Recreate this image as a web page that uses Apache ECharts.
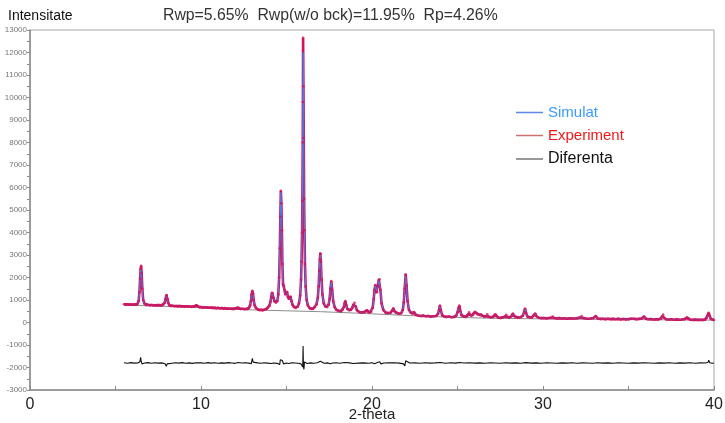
<!DOCTYPE html>
<html>
<head>
<meta charset="utf-8">
<script src="https://cdn.jsdelivr.net/npm/echarts@6/dist/echarts.min.js"></script>
<style>
  html, body { margin: 0; padding: 0; background: #fff; }
  #chart { width: 725px; height: 423px; }
</style>
</head>
<body>
<div id="chart"></div>
<script>
// Powder diffraction pattern: observed, calculated, background and difference
const twoTheta = [
  5.50,5.60,5.70,5.80,5.90,6.00,6.10,6.20,6.28,6.35,
  6.40,6.44,6.47,6.50,6.53,6.57,6.62,6.70,6.80,6.90,
  7.00,7.10,7.20,7.30,7.40,7.50,7.60,7.70,7.80,7.88,
  7.93,7.97,8.00,8.04,8.09,8.16,8.25,8.35,8.45,8.55,
  8.65,8.75,8.85,8.95,9.05,9.15,9.25,9.35,9.45,9.55,
  9.65,9.72,9.77,9.83,9.92,10.00,10.10,10.20,10.30,10.40,
  10.50,10.60,10.70,10.80,10.90,11.00,11.10,11.20,11.30,11.40,
  11.50,11.60,11.70,11.80,11.90,12.00,12.10,12.17,12.24,12.32,
  12.42,12.52,12.62,12.72,12.80,12.87,12.92,12.96,13.00,13.04,
  13.08,13.14,13.22,13.32,13.42,13.52,13.62,13.72,13.82,13.92,
  14.00,14.06,14.11,14.15,14.19,14.24,14.30,14.38,14.46,14.52,
  14.57,14.61,14.64,14.67,14.70,14.73,14.76,14.80,14.84,14.88,
  14.93,14.98,15.03,15.08,15.14,15.20,15.24,15.29,15.36,15.45,
  15.55,15.65,15.73,15.80,15.85,15.88,15.91,15.93,15.95,15.96,
  15.97,15.99,16.01,16.03,16.05,16.08,16.12,16.18,16.25,16.35,
  16.45,16.55,16.65,16.75,16.83,16.88,16.92,16.95,16.98,17.01,
  17.05,17.10,17.18,17.28,17.38,17.46,17.52,17.57,17.62,17.67,
  17.73,17.82,17.92,18.05,18.18,18.28,18.35,18.40,18.44,18.49,
  18.56,18.66,18.76,18.85,18.91,18.98,19.04,19.12,19.25,19.40,
  19.55,19.64,19.70,19.76,19.86,19.96,20.04,20.10,20.15,20.19,
  20.24,20.29,20.34,20.40,20.44,20.49,20.56,20.66,20.80,20.95,
  21.08,21.17,21.25,21.31,21.40,21.55,21.70,21.80,21.86,21.91,
  21.97,22.02,22.08,22.16,22.28,22.38,22.47,22.55,22.70,22.85,
  23.00,23.15,23.30,23.45,23.60,23.75,23.86,23.92,23.97,24.02,
  24.10,24.22,24.35,24.50,24.65,24.80,24.92,25.00,25.06,25.11,
  25.16,25.24,25.35,25.48,25.58,25.64,25.68,25.73,25.82,25.92,
  25.98,26.04,26.10,26.18,26.28,26.38,26.46,26.56,26.66,26.74,
  26.82,26.95,27.08,27.16,27.21,27.27,27.38,27.52,27.66,27.78,
  27.85,27.92,28.04,28.16,28.24,28.31,28.42,28.55,28.70,28.82,
  28.90,28.95,29.01,29.10,29.22,29.35,29.46,29.54,29.62,29.75,
  29.90,30.05,30.20,30.35,30.48,30.57,30.65,30.80,30.95,31.10,
  31.25,31.40,31.55,31.70,31.85,32.00,32.15,32.26,32.36,32.50,
  32.65,32.80,32.95,33.09,33.20,33.35,33.50,33.65,33.80,33.95,
  34.10,34.25,34.40,34.55,34.70,34.85,35.00,35.15,35.30,35.45,
  35.60,35.75,35.91,36.02,36.15,36.30,36.45,36.60,36.75,36.90,
  36.97,37.03,37.10,37.22,37.38,37.52,37.68,37.82,37.97,38.12,
  38.28,38.38,38.43,38.50,38.62,38.78,38.92,39.08,39.22,39.36,
  39.48,39.58,39.64,39.69,39.74,39.82,39.92,40.00
];

const observed = [
  810,790,805,780,800,785,795,780,820,950,
  1350,1950,2380,2520,2200,1500,1000,830,770,790,
  760,780,755,770,750,775,745,770,790,880,
  1050,1200,1220,1050,860,760,720,745,715,735,
  705,730,700,725,695,720,700,710,690,705,
  720,760,740,710,680,700,670,690,665,680,
  655,675,650,665,640,660,635,650,625,640,
  615,635,610,625,605,620,640,680,620,595,
  610,585,600,590,640,760,950,1250,1410,1300,
  1000,760,640,580,555,575,550,580,600,660,
  750,920,1150,1320,1300,1100,930,880,950,1250,
  2000,3300,4700,5850,5300,4100,2600,1700,1610,1450,
  1250,1280,1370,1150,1050,1120,1150,950,780,680,
  640,700,850,1200,1900,2700,4000,5400,8000,9800,
  12650,10500,8200,5500,4100,2600,1600,1000,760,640,
  600,610,680,800,1100,1600,2300,2800,3080,2700,
  1900,1250,850,700,680,780,1050,1500,1840,1450,
  950,680,560,520,500,560,680,850,950,780,
  600,540,560,660,800,880,720,550,470,450,
  470,500,540,470,440,480,650,1050,1450,1660,
  1350,1350,1650,1900,1920,1450,850,560,440,420,
  430,520,630,500,420,390,410,560,900,1500,
  2140,1650,950,560,420,380,450,350,310,290,
  305,275,290,260,275,290,380,560,750,560,
  330,270,250,265,235,250,300,450,640,750,
  520,320,260,250,290,380,450,360,300,350,
  440,480,420,360,340,370,300,250,280,360,
  260,230,250,310,360,280,220,205,230,270,
  340,250,230,280,400,290,235,215,240,300,
  480,620,420,260,230,230,300,400,280,210,
  195,200,185,200,210,260,200,180,195,175,
  190,170,185,175,180,190,220,290,200,175,
  165,180,200,290,180,160,170,150,165,150,
  160,145,160,140,155,140,150,165,170,150,
  160,175,260,170,145,150,135,145,140,180,
  280,350,200,140,130,140,125,138,125,135,
  150,200,215,150,125,118,128,115,125,115,
  130,200,340,430,300,160,120,110
];

const calculated = [
  795,793,791,789,787,786,788,792,810,960,
  1380,1980,2420,2480,2150,1450,980,820,785,780,
  777,774,771,768,765,763,762,768,790,900,
  1080,1250,1230,1020,850,760,740,735,732,729,
  726,723,720,717,714,711,708,705,703,702,
  710,745,750,720,695,690,686,682,678,674,
  670,666,662,658,654,650,646,642,638,634,
  630,626,622,618,615,614,625,660,630,608,
  600,598,600,605,625,740,980,1260,1380,1290,
  980,750,640,590,570,568,570,578,600,650,
  740,900,1150,1300,1280,1080,920,870,960,1300,
  2100,3400,4800,5780,5250,4000,2550,1650,1580,1420,
  1230,1250,1340,1120,1030,1100,1140,930,770,680,
  650,700,860,1250,2000,2850,4200,5600,8300,10200,
  12000,11200,8400,5300,4000,2500,1550,1000,760,650,
  610,620,690,820,1150,1650,2400,2850,3000,2650,
  1850,1230,860,700,690,800,1080,1550,1800,1400,
  940,680,560,520,510,560,700,880,930,760,
  600,530,560,680,820,870,700,560,480,445,
  460,500,530,480,450,480,620,1000,1400,1700,
  1400,1350,1600,1880,1850,1500,900,570,450,420,
  440,500,600,510,420,395,420,600,950,1550,
  2050,1600,920,550,410,380,430,350,315,300,
  290,280,275,270,268,290,400,580,720,540,
  330,260,250,245,240,242,300,460,650,720,
  520,320,260,255,290,370,440,350,300,350,
  430,470,420,360,330,360,290,255,270,350,
  260,235,240,300,340,270,225,215,220,260,
  330,250,230,270,380,290,235,220,230,300,
  500,600,430,260,225,230,290,380,280,215,
  200,195,192,195,210,260,200,188,185,182,
  180,178,178,176,178,185,220,280,200,175,
  170,170,200,280,185,165,162,160,158,156,
  155,153,152,150,148,147,146,150,160,155,
  152,170,250,175,148,145,142,140,140,170,
  270,330,210,145,135,133,132,131,130,130,
  145,190,210,150,125,123,122,121,120,120,
  130,190,330,410,300,170,125,120
];

// Refined background curve
const bgTheta = [5.5, 7, 9, 11, 13, 15, 17, 19, 21, 23, 25, 27, 29, 31, 33, 35, 37, 39, 40];
const background = [775, 740, 690, 620, 560, 520, 480, 420, 350, 280, 225, 190, 170, 155, 140, 130, 120, 110, 105];

// Difference curve (observed - calculated), drawn with an offset below the pattern
const diffTheta = [
  5.5,5.7,5.9,6.1,6.3,6.42,6.47,6.5,6.55,6.7,
  6.9,7.1,7.3,7.5,7.7,7.9,7.97,8.02,8.1,8.3,
  8.5,8.7,8.9,9.1,9.3,9.5,9.7,9.8,10.0,10.2,
  10.4,10.6,10.8,11.0,11.2,11.4,11.6,11.8,12.0,12.17,
  12.4,12.6,12.8,12.94,13.0,13.05,13.12,13.3,13.5,13.7,
  13.9,14.1,14.17,14.25,14.45,14.6,14.64,14.67,14.72,14.76,
  14.82,14.9,15.0,15.05,15.15,15.3,15.5,15.7,15.85,15.92,
  15.95,15.97,15.99,16.02,16.05,16.1,16.2,16.4,16.6,16.8,
  16.9,16.98,17.05,17.2,17.4,17.55,17.62,17.7,17.9,18.1,
  18.4,18.5,18.7,18.9,19.0,19.2,19.5,19.8,20.0,20.15,
  20.2,20.28,20.38,20.45,20.52,20.7,21.0,21.3,21.6,21.85,
  21.92,21.97,22.03,22.2,22.5,22.8,23.1,23.4,23.7,24.0,
  24.3,24.6,24.9,25.1,25.4,25.7,26.0,26.3,26.6,26.9,
  27.2,27.5,27.8,28.1,28.4,28.7,29.0,29.3,29.6,29.9,
  30.2,30.5,30.8,31.1,31.4,31.7,32.0,32.3,32.6,32.9,
  33.2,33.5,33.8,34.1,34.4,34.7,35.0,35.3,35.6,35.9,
  36.2,36.5,36.8,37.1,37.4,37.7,38.0,38.3,38.6,38.9,
  39.2,39.5,39.65,39.69,39.75,39.9,40.0
];
const difference = [
  -1790,-1810,-1785,-1805,-1795,-1760,-1550,-1720,-1840,-1800,
  -1785,-1810,-1790,-1805,-1795,-1830,-1950,-1840,-1790,-1810,
  -1790,-1805,-1785,-1810,-1795,-1815,-1790,-1830,-1795,-1810,
  -1785,-1805,-1790,-1810,-1795,-1805,-1785,-1800,-1815,-1780,
  -1800,-1790,-1805,-1830,-1600,-1760,-1810,-1795,-1810,-1790,
  -1805,-1820,-1760,-1800,-1815,-1870,-1660,-1600,-1720,-1690,
  -1840,-1760,-1800,-1770,-1820,-1790,-1800,-1810,-1840,-1900,
  -1980,-1050,-1950,-2080,-1750,-1760,-1820,-1795,-1810,-1790,
  -1860,-1720,-1780,-1810,-1795,-1830,-1760,-1800,-1790,-1810,
  -1780,-1810,-1795,-1820,-1790,-1805,-1795,-1810,-1790,-1830,
  -1880,-1790,-1780,-1740,-1840,-1800,-1795,-1790,-1805,-1840,
  -1930,-1700,-1760,-1800,-1795,-1810,-1790,-1805,-1795,-1780,
  -1810,-1790,-1805,-1780,-1800,-1790,-1805,-1795,-1810,-1790,
  -1800,-1810,-1790,-1805,-1795,-1810,-1785,-1805,-1795,-1810,
  -1790,-1800,-1810,-1795,-1805,-1790,-1810,-1795,-1800,-1810,
  -1790,-1805,-1795,-1810,-1790,-1800,-1810,-1795,-1805,-1790,
  -1800,-1810,-1795,-1805,-1790,-1810,-1795,-1805,-1790,-1810,
  -1795,-1800,-1770,-1680,-1790,-1810,-1800
];

const xTicks = [0, 10, 20, 30, 40];
const statsText = 'Rwp=5.65%  Rwp(w/o bck)=11.95%  Rp=4.26%';

const FONT = '"Liberation Sans", Arial, sans-serif';
const toPairs = (xs, ys) => xs.map((x, i) => [x, ys[i]]);

const chart = echarts.init(document.getElementById('chart'), null, { renderer: 'canvas' });

chart.setOption({
  animation: false,
  backgroundColor: '#ffffff',
  textStyle: { fontFamily: FONT },
  grid: {
    left: 30, right: 11, top: 30, bottom: 33,
    containLabel: false, outerBoundsMode: 'none',
    show: true, borderColor: '#a8a8a8', borderWidth: 1, backgroundColor: 'transparent'
  },
  graphic: [
    { type: 'text', left: 8, top: 9, style: { text: 'Intensitate', fontSize: 14, fontFamily: FONT, fill: '#111' } },
    { type: 'text', left: 163, top: 8, style: { text: statsText, fontSize: 15.8, fontFamily: FONT, fill: '#333' } }
  ],
  legend: {
    orient: 'vertical',
    left: 516, top: 105, padding: 0,
    itemWidth: 27, itemHeight: 1.5, itemGap: 8,
    icon: 'rect',
    textStyle: { fontFamily: FONT, fontSize: 15 },
    data: [
      { name: 'Simulat', itemStyle: { color: '#5a8ae6' }, textStyle: { color: '#3b9aff', fontSize: 15 } },
      { name: 'Experiment', itemStyle: { color: '#c97070' }, textStyle: { color: '#f01818', fontSize: 15 } },
      { name: 'Diferenta', itemStyle: { color: '#777777' }, textStyle: { color: '#111111', fontSize: 16 } }
    ]
  },
  xAxis: {
    type: 'value', min: 0, max: 40, interval: 5,
    name: '2-theta', nameLocation: 'middle', nameGap: 17, nameMoveOverlap: false,
    nameTextStyle: { fontSize: 15, color: '#222', fontFamily: FONT },
    axisLine: { show: true, onZero: false, lineStyle: { color: '#8a8a8a', width: 1.5 } },
    axisTick: { show: true, inside: true, length: 4, lineStyle: { color: '#8a8a8a' } },
    axisLabel: {
      fontSize: 16, color: '#222', margin: 7, fontFamily: FONT,
      formatter: v => (xTicks.indexOf(v) >= 0 ? String(v) : '')
    },
    splitLine: { show: false }
  },
  yAxis: {
    type: 'value', min: -3000, max: 13000, interval: 1000,
    axisLine: { show: true, onZero: false, lineStyle: { color: '#8a8a8a', width: 1.5 } },
    axisTick: { show: true, length: 3, lineStyle: { color: '#8a8a8a' } },
    minorTick: { show: true, splitNumber: 2, length: 3, lineStyle: { color: '#8a8a8a' } },
    axisLabel: { fontSize: 8, color: '#777', margin: 3, fontFamily: FONT, formatter: v => String(v) },
    splitLine: { show: false }
  },
  series: [
    {
      name: 'Background', type: 'line', data: toPairs(bgTheta, background),
      showSymbol: false, z: 1, silent: true,
      lineStyle: { color: '#8c8c8c', width: 1 }
    },
    {
      name: 'Experiment', type: 'line', data: toPairs(twoTheta, observed),
      showSymbol: false, z: 2,
      itemStyle: { color: '#c97070' },
      lineStyle: { color: '#d2125a', width: 2.6 }
    },
    {
      name: 'Simulat', type: 'line', data: toPairs(twoTheta, calculated),
      showSymbol: false, z: 3,
      itemStyle: { color: '#5a8ae6' },
      lineStyle: { color: '#4a80e8', width: 1 }
    },
    {
      name: 'Experiment', type: 'scatter', data: toPairs(twoTheta, observed),
      symbolSize: 2.6, z: 4,
      itemStyle: { color: '#d2125a' }
    },
    {
      name: 'Diferenta', type: 'line', data: toPairs(diffTheta, difference),
      showSymbol: false, z: 2,
      itemStyle: { color: '#777777' },
      lineStyle: { color: '#111111', width: 1.1 }
    }
  ]
});
</script>
</body>
</html>
